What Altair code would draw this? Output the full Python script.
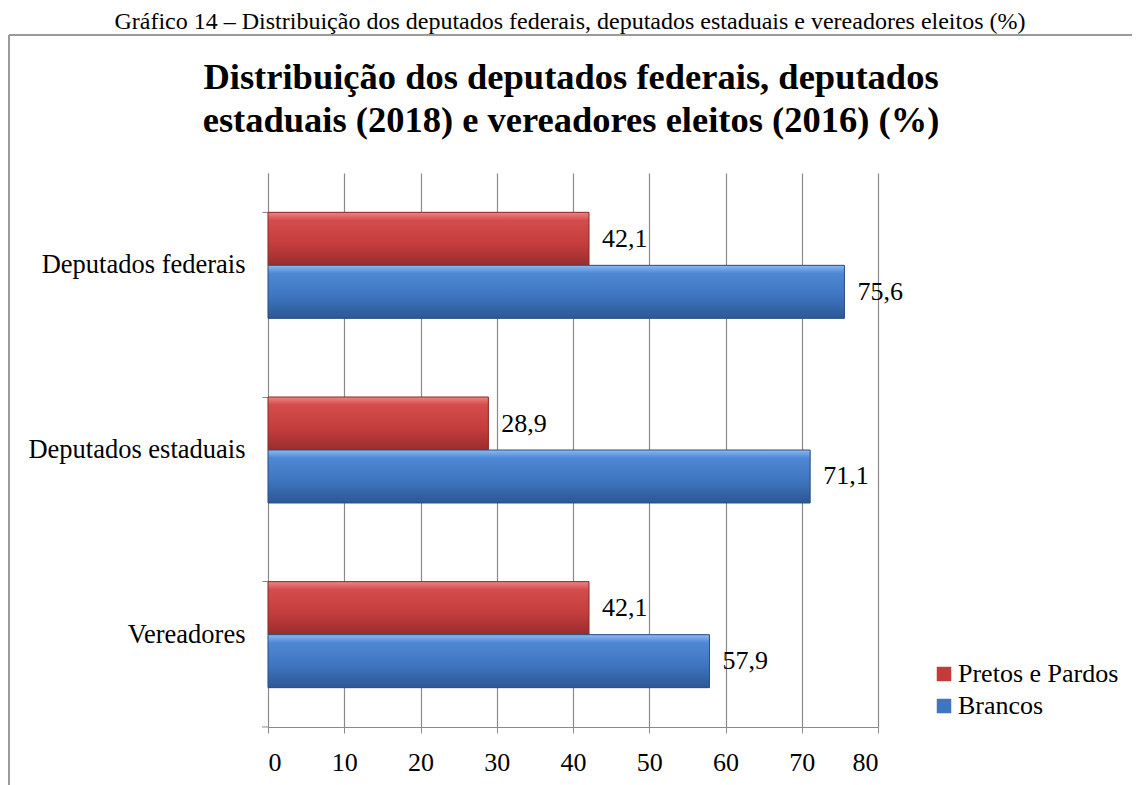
import altair as alt
import pandas as pd

categories = ["Deputados federais", "Deputados estaduais", "Vereadores"]
series = ["Pretos e Pardos", "Brancos"]
pretos_pardos = [42.1, 28.9, 42.1]
brancos = [75.6, 71.1, 57.9]
x_ticks = [0, 10, 20, 30, 40, 50, 60, 70, 80]
caption = "Gráfico 14 – Distribuição dos deputados federais, deputados estaduais e vereadores eleitos (%)"
title_lines = ["Distribuição dos deputados federais, deputados",
               "estaduais (2018) e vereadores eleitos (2016) (%)"]

rows = []
for c, p, b in zip(categories, pretos_pardos, brancos):
    rows.append({"cat": c, "serie": series[0], "val": p})
    rows.append({"cat": c, "serie": series[1], "val": b})
df = pd.DataFrame(rows)
df["lab"] = df["val"].map(lambda v: f"{v:.1f}".replace(".", ","))

FONT = "Liberation Serif"
GRID = "#8a8a8a"
FS = 26
W, H = 610, 554

y_enc = alt.Y("cat:N", sort=categories, title=None,
              scale=alt.Scale(paddingInner=0.426, paddingOuter=0.213),
              axis=alt.Axis(labelFont=FONT, labelFontSize=26.5, labelColor="#000",
                            labelPadding=17, domainColor=GRID, tickColor=GRID,
                            tickSize=6, bandPosition=0, grid=False, labelLimit=400))
yoff_enc = alt.YOffset("serie:N", sort=series,
                       scale=alt.Scale(domain=series, paddingInner=0, paddingOuter=0))
x_enc = alt.X("val:Q", title=None,
              scale=alt.Scale(domain=[0, 80], nice=False),
              axis=alt.Axis(values=x_ticks, labelFont=FONT, labelFontSize=FS,
                            labelColor="#000", labelPadding=16, domainColor=GRID,
                            tickColor=GRID, tickSize=6, gridColor=GRID, grid=True,
                            gridWidth=1.2))

base = alt.Chart(df)

flat = base.mark_bar().encode(
    x=x_enc, y=y_enc, yOffset=yoff_enc,
    color=alt.Color("serie:N", sort=series,
                    scale=alt.Scale(domain=series, range=["#C43B3B", "#3F76C2"]),
                    legend=alt.Legend(title=None, orient="none", legendX=663, legendY=488,
                                      labelFont=FONT, labelFontSize=FS, labelColor="#000",
                                      labelLimit=400,
                                      symbolType="square", symbolSize=210,
                                      symbolStrokeWidth=1, rowPadding=6, labelOffset=1)),
)

red_grad = alt.LinearGradient(gradient="linear", x1=0, y1=0, x2=0, y2=1, stops=[
    alt.GradientStop(color="#EC8585", offset=0),
    alt.GradientStop(color="#D44C4C", offset=0.15),
    alt.GradientStop(color="#C43C3C", offset=0.6),
    alt.GradientStop(color="#9A2D2D", offset=1)])
blue_grad = alt.LinearGradient(gradient="linear", x1=0, y1=0, x2=0, y2=1, stops=[
    alt.GradientStop(color="#8DBBF2", offset=0),
    alt.GradientStop(color="#4E88D4", offset=0.15),
    alt.GradientStop(color="#3D74BE", offset=0.6),
    alt.GradientStop(color="#2C5795", offset=1)])

red = base.transform_filter(alt.datum.serie == series[0]).mark_bar(
    color=red_grad, stroke="#8E2828", strokeWidth=1).encode(x=x_enc, y=y_enc, yOffset=yoff_enc)
blue = base.transform_filter(alt.datum.serie == series[1]).mark_bar(
    color=blue_grad, stroke="#2A4F86", strokeWidth=1).encode(x=x_enc, y=y_enc, yOffset=yoff_enc)

labels = base.mark_text(align="left", baseline="middle", dx=13, font=FONT,
                        fontSize=FS, color="#000").encode(
    x=x_enc, y=y_enc, yOffset=yoff_enc, text="lab:N")

ann = pd.DataFrame({"t": [caption]})
cap = alt.Chart(ann).mark_text(font=FONT, fontSize=24, color="#000",
                               align="center", baseline="alphabetic").encode(
    x=alt.value(302), y=alt.value(-144), text="t:N")

t1 = alt.Chart(pd.DataFrame({"t": [title_lines[0]]})).mark_text(
    font=FONT, fontSize=36.5, fontWeight="bold", color="#000",
    align="center", baseline="alphabetic").encode(
    x=alt.value(303), y=alt.value(-84), text="t:N")
t2 = alt.Chart(pd.DataFrame({"t": [title_lines[1]]})).mark_text(
    font=FONT, fontSize=36.5, fontWeight="bold", color="#000",
    align="center", baseline="alphabetic").encode(
    x=alt.value(303), y=alt.value(-41), text="t:N")

frame_top = alt.Chart(ann).mark_rule(color="#9a9a9a", strokeWidth=2).encode(
    x=alt.value(-259), x2=alt.value(880), y=alt.value(-138))
frame_left = alt.Chart(ann).mark_rule(color="#9a9a9a", strokeWidth=2).encode(
    x=alt.value(-259), y=alt.value(-138), y2=alt.value(620))
bottom_tick = alt.Chart(ann).mark_rule(color=GRID, strokeWidth=1).encode(
    x=alt.value(-6), x2=alt.value(0), y=alt.value(H))

chart = alt.layer(frame_top, frame_left, cap, t1, t2, bottom_tick,
                  flat, red, blue, labels).properties(
    width=W, height=H,
    padding={"left": 260, "top": 165, "right": 254, "bottom": 58},
    autosize=alt.AutoSizeParams(type="none"),
).configure_view(stroke=None)

chart.save("out.html", embed_options={"renderer": "svg", "actions": False})
